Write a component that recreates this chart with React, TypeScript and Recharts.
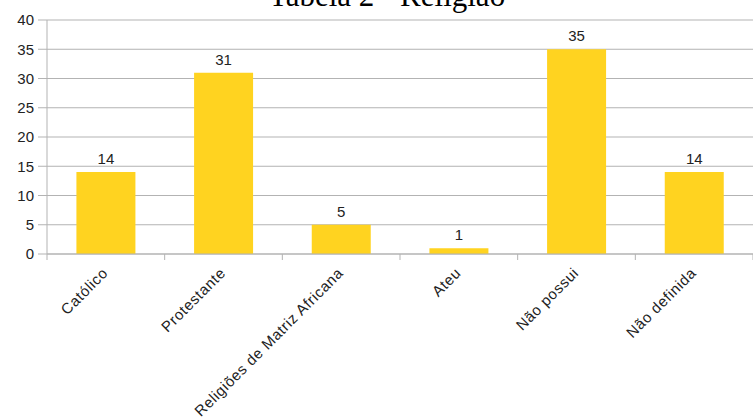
import React from 'react';
import { BarChart, Bar, XAxis, YAxis, CartesianGrid, LabelList } from 'recharts';

const categorias = ['Católico', 'Protestante', 'Religiões de Matriz Africana', 'Ateu', 'Não possui', 'Não definida'];
const valores = [14, 31, 5, 1, 35, 14];
const yTicks = [0, 5, 10, 15, 20, 25, 30, 35, 40];

const data = categorias.map((nome, i) => ({ nome, valor: valores[i] }));

const W = 753;
const H = 419;
const LEFT = 47;
const BAND = (W - LEFT) / categorias.length;
const GRID = '#b3b3b3';
const FONT = '"Liberation Sans", Arial, sans-serif';

// ticks at band boundaries, labels rotated under the band centre
const CatTick = (props: any) => {
  const { x, y, payload, index } = props;
  return (
    <g transform={`translate(${x},${y})`}>
      <line x1={-BAND / 2} y1={0} x2={-BAND / 2} y2={6} stroke={GRID} />
      {index === categorias.length - 1 && (
        <line x1={BAND / 2} y1={0} x2={BAND / 2} y2={6} stroke={GRID} />
      )}
      <text
        x={3}
        y={20}
        textAnchor="end"
        transform="rotate(-45 3 20)"
        fontSize={15}
        letterSpacing={0.6}
        fontFamily={FONT}
        fill="#222"
      >
        {payload.value}
      </text>
    </g>
  );
};

export default function App() {
  return (
    <div style={{ position: 'absolute', left: 0, top: 0, width: W, height: H, background: '#fff', overflow: 'hidden' }}>
      <BarChart
        width={W}
        height={H}
        data={data}
        margin={{ top: 20, right: 0, left: 0, bottom: 0 }}
        barCategoryGap="25%"
      >
        <CartesianGrid horizontal vertical={false} stroke={GRID} />
        <XAxis
          dataKey="nome"
          interval={0}
          height={165}
          stroke={GRID}
          tickSize={0}
          tickMargin={0}
          tick={<CatTick />}
        />
        <YAxis
          width={LEFT}
          domain={[0, 40]}
          ticks={yTicks}
          interval={0}
          stroke={GRID}
          tickSize={9}
          tickMargin={4}
          tick={{ fill: '#222', fontSize: 15, fontFamily: FONT }}
        />
        <Bar dataKey="valor" fill="#ffd320" isAnimationActive={false}>
          <LabelList dataKey="valor" position="top" offset={8} fill="#222" fontSize={15} fontFamily={FONT} />
        </Bar>
      </BarChart>
      <svg width={W} height={30} style={{ position: 'absolute', left: 0, top: 0 }}>
        <text
          x={387}
          y={6}
          textAnchor="middle"
          fontSize={31}
          fontFamily='"Liberation Serif", "Times New Roman", serif'
          fill="#000"
        >
          Tabela 2 - Religião
        </text>
      </svg>
    </div>
  );
}
